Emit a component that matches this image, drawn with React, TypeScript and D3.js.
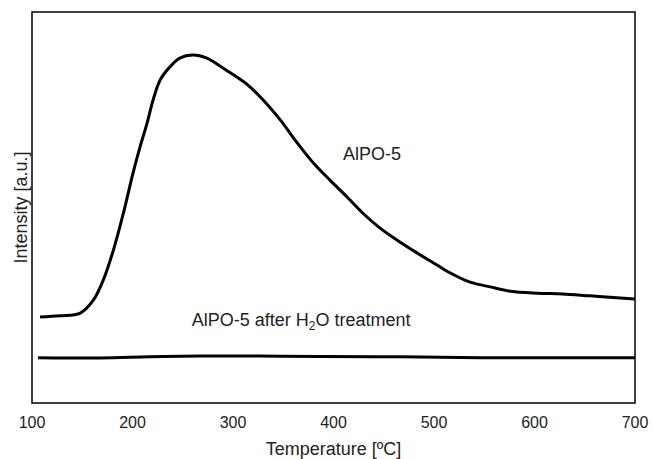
import React, { useEffect, useRef } from 'react';
import * as d3 from 'd3';

// temperature [°C] and intensity [a.u.]
const alpoTemp = [108, 128, 148, 161, 171, 181, 191, 200.5, 207.5, 214.5, 220.5, 227.5, 237, 247, 260, 274, 287, 297, 307, 314, 330, 347, 364, 380, 396.5, 413.5, 429, 446, 463, 483, 503, 513, 536, 556, 576, 602.5, 628, 655, 682, 700];
const alpoValue = [22.0, 22.3, 23.0, 26.3, 31.5, 39.1, 48.6, 58.8, 65.5, 71.6, 77.5, 82.6, 85.9, 88.2, 89.0, 88.2, 86.2, 84.5, 82.8, 81.5, 77.5, 72.4, 66.5, 61.4, 57.0, 52.7, 48.6, 44.8, 41.7, 38.4, 35.3, 33.7, 30.9, 29.7, 28.6, 28.1, 27.9, 27.4, 26.9, 26.6];

const treatedTemp = [106, 168, 217, 267, 327, 387, 466, 546, 625, 700];
const treatedValue = [11.6, 11.5, 11.8, 12.0, 12.0, 11.9, 11.8, 11.6, 11.6, 11.6];

const xTicks = [100, 200, 300, 400, 500, 600, 700];

const App = () => {
  const svgRef = useRef(null);

  useEffect(() => {
    const width = 654;
    const height = 459;
    const left = 32;
    const right = 635;
    const top = 12;
    const bottom = 403;
    const font = 'Liberation Sans, Arial, sans-serif';

    const svg = d3.select(svgRef.current).attr('width', width).attr('height', height);
    svg.selectAll('*').remove();

    const x = d3.scaleLinear().domain([100, 700]).range([left, right]);
    const y = d3.scaleLinear().domain([0, 100]).range([bottom, top]);

    const line = d3
      .line()
      .x((d) => x(d[0]))
      .y((d) => y(d[1]))
      .curve(d3.curveCatmullRom.alpha(0.5));

    const series = [
      d3.zip(alpoTemp, alpoValue),
      d3.zip(treatedTemp, treatedValue),
    ];

    svg
      .selectAll('.curve')
      .data(series)
      .join('path')
      .attr('class', 'curve')
      .attr('d', (d) => line(d))
      .attr('fill', 'none')
      .attr('stroke', '#000')
      .attr('stroke-width', 3)
      .attr('stroke-linejoin', 'round');

    svg
      .append('rect')
      .attr('x', left)
      .attr('y', top)
      .attr('width', right - left)
      .attr('height', bottom - top)
      .attr('fill', 'none')
      .attr('stroke', '#000')
      .attr('stroke-width', 1.5);

    svg
      .selectAll('.xtick')
      .data(xTicks)
      .join('text')
      .attr('class', 'xtick')
      .attr('x', (d) => x(d))
      .attr('y', 428)
      .attr('text-anchor', 'middle')
      .attr('font-family', font)
      .attr('font-size', 16)
      .attr('fill', '#222')
      .text((d) => d);

    svg
      .append('text')
      .attr('x', (left + right) / 2)
      .attr('y', 455)
      .attr('text-anchor', 'middle')
      .attr('font-family', font)
      .attr('font-size', 18)
      .attr('fill', '#222')
      .text('Temperature [ºC]');

    svg
      .append('text')
      .attr('transform', `translate(27,${(top + bottom) / 2}) rotate(-90)`)
      .attr('text-anchor', 'middle')
      .attr('font-family', font)
      .attr('font-size', 18)
      .attr('fill', '#222')
      .text('Intensity [a.u.]');

    svg
      .append('text')
      .attr('x', x(409.5))
      .attr('y', y(62.1))
      .attr('font-family', font)
      .attr('font-size', 18)
      .attr('fill', '#222')
      .text('AlPO-5');

    const t = svg
      .append('text')
      .attr('x', x(259))
      .attr('y', y(19.7))
      .attr('font-family', font)
      .attr('font-size', 18)
      .attr('fill', '#222');
    t.append('tspan').text('AlPO-5 after H');
    t.append('tspan').attr('font-size', 12).attr('dy', 4).text('2');
    t.append('tspan').attr('dy', -4).text('O treatment');
  }, []);

  return (
    <div>
      <svg ref={svgRef} style={{ position: 'absolute', left: 0, top: 0, display: 'block' }}></svg>
    </div>
  );
};

export default App;
